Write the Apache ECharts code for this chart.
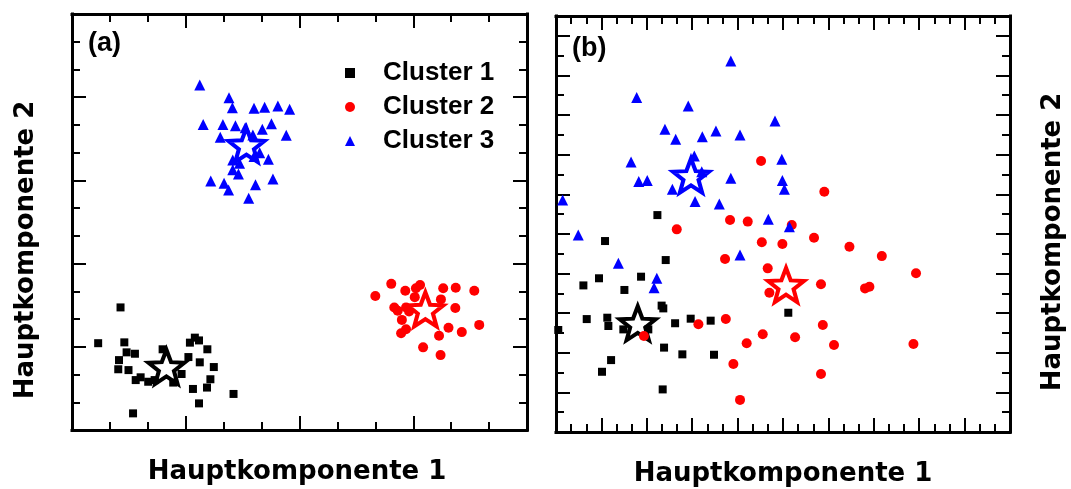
<!DOCTYPE html>
<html>
<head>
<meta charset="utf-8">
<script src="https://cdn.jsdelivr.net/npm/echarts@6/dist/echarts.min.js"></script>
<style>
html,body{margin:0;padding:0;background:#fff;}
#chart{width:1071px;height:489px;}
</style>
</head>
<body>
<div id="chart"></div>
<script>
// ---------- data ----------
const seriesNames = ['Cluster 1', 'Cluster 2', 'Cluster 3'];
const centerNames = ['Zentrum 1', 'Zentrum 2', 'Zentrum 3'];
const axisTitleX = 'Hauptkomponente 1';
const axisTitleY = 'Hauptkomponente 2';
const panelLabels = ['(a)', '(b)'];

// Panel (a)
const a_cluster1 = [[1.28,4.42],[0.69,3.13],[1.38,3.16],[1.44,2.80],[1.66,2.75],[1.24,2.52],[1.22,2.19],[1.49,2.16],[1.68,1.80],[1.81,1.90],[2.01,1.74],[2.18,1.80],[2.39,2.91],[2.67,1.71],[2.89,2.02],[3.07,2.63],[3.11,3.15],[3.24,3.33],[3.35,3.23],[3.57,2.91],[3.37,2.44],[3.74,2.27],[3.65,1.83],[3.56,1.53],[3.19,1.48],[3.35,0.96],[4.26,1.30],[1.61,0.60]];
const a_cluster2 = [[8.00,4.83],[8.42,5.27],[8.79,5.02],[9.07,5.11],[9.18,5.23],[9.79,5.11],[10.12,5.13],[10.61,5.02],[9.04,4.79],[9.73,4.71],[8.50,4.42],[8.59,4.30],[8.81,4.42],[8.89,4.27],[10.11,4.40],[8.70,3.97],[8.81,3.63],[8.68,3.49],[9.93,3.69],[10.28,3.53],[10.74,3.79],[9.68,3.40],[9.26,2.98],[9.72,2.70]];
const a_cluster3 = [[3.37,12.44],[4.14,11.98],[4.23,11.62],[4.80,11.60],[5.08,11.64],[5.43,11.68],[5.74,11.57],[3.46,11.02],[3.98,11.02],[4.31,10.97],[4.57,10.90],[5.02,10.84],[5.26,11.04],[5.65,10.63],[3.91,10.56],[4.77,10.64],[4.95,10.00],[5.18,9.76],[4.80,9.86],[4.24,9.74],[4.42,9.62],[4.24,9.38],[4.39,9.23],[3.66,8.98],[4.01,8.90],[4.13,8.65],[4.84,8.84],[5.30,9.05],[4.66,8.36]];
const a_centers = [[2.49,2.28],[9.32,4.35],[4.60,10.28]];

// Panel (b)
const b_cluster1 = [[6.70,10.95],[3.24,9.64],[7.25,8.68],[1.81,7.40],[2.84,7.76],[4.52,7.17],[5.62,7.84],[6.98,6.38],[7.09,6.24],[2.03,5.70],[3.39,5.77],[3.46,5.35],[4.45,5.18],[6.10,5.18],[7.87,5.49],[8.90,5.72],[10.22,5.62],[0.15,5.15],[7.14,4.26],[8.35,3.92],[10.44,3.90],[3.64,3.63],[3.04,3.04],[7.05,2.15],[15.35,6.02]];
const b_cluster2 = [[13.55,13.68],[11.50,10.70],[12.67,10.62],[15.58,10.45],[7.98,10.23],[13.60,9.58],[14.96,9.49],[11.17,8.73],[13.99,8.26],[14.10,7.03],[11.22,5.70],[9.41,5.44],[13.66,4.93],[15.80,4.78],[12.60,4.48],[11.72,3.43],[12.16,1.62],[5.81,4.85],[17.73,12.13],[17.05,9.81],[19.39,9.35],[21.53,8.88],[23.79,8.01],[17.51,7.46],[20.42,7.25],[20.71,7.33],[17.63,5.40],[18.37,4.39],[23.62,4.44],[17.51,2.93]];
const b_cluster3 = [[11.55,18.73],[5.33,16.88],[8.74,16.46],[14.47,15.70],[7.20,15.28],[7.91,14.78],[9.67,14.91],[10.57,15.19],[12.16,14.99],[4.96,13.63],[9.14,13.93],[14.92,13.77],[5.47,12.64],[6.03,12.69],[11.55,12.81],[14.96,12.69],[15.09,12.25],[7.69,12.25],[9.63,13.14],[9.19,11.63],[10.79,11.51],[0.44,11.71],[14.03,10.74],[15.42,10.36],[1.47,9.94],[4.12,8.52],[12.16,8.93],[6.66,7.76],[6.48,7.28]];
const b_centers = [[5.40,5.49],[15.20,7.42],[8.92,12.94]];

// axis ranges
const aX = {min: 0, max: 12, interval: 3, minor: 3};
const aY = {min: 0, max: 15, interval: 3, minor: 3};
const bX = {min: 0, max: 30, interval: 3, minor: 3};
const bY = {min: 0, max: 21, interval: 2, minorInterval: 1};

// ---------- styling ----------
const colors = ['#000000', '#ff0000', '#0000ff'];
const symbols = ['rect', 'circle', 'triangle'];
const FONT_T = '"DejaVu Sans", "Liberation Sans", Arial, sans-serif';
const FONT_L = '"Liberation Sans", Arial, Helvetica, sans-serif';
const STAR = 'path://M50 0 L62.34 33.01 L97.55 34.55 L69.97 56.49 L79.39 90.45 L50 71 L20.61 90.45 L30.03 56.49 L2.45 34.55 L37.66 33.01 Z';

function mkAxis(gridIndex, position, r, interval, minorSplit, majorLen, minorLen, showLine) {
  return {
    type: 'value', gridIndex: gridIndex, position: position,
    min: r.min, max: r.max, interval: interval,
    axisLine: {show: showLine, onZero: false, lineStyle: {color: '#000', width: 3, cap: 'square'}},
    axisTick: {show: true, inside: true, length: majorLen, lineStyle: {color: '#000', width: 2}},
    minorTick: {show: minorSplit > 1, splitNumber: minorSplit || 1, length: minorLen, lineStyle: {color: '#000', width: 2}},
    axisLabel: {show: false},
    splitLine: {show: false},
    minorSplitLine: {show: false}
  };
}

const xAxes = [
  mkAxis(0, 'bottom', aX, aX.interval, aX.minor, 14, 8, true),
  mkAxis(0, 'top', aX, aX.interval, aX.minor, 14, 8, true),
  mkAxis(1, 'bottom', bX, bX.interval, bX.minor, 14, 8, true),
  mkAxis(1, 'top', bX, bX.interval, bX.minor, 14, 8, true)
];
const yAxes = [
  mkAxis(0, 'left', aY, aY.interval, aY.minor, 14, 8, true),
  mkAxis(0, 'right', aY, aY.interval, aY.minor, 14, 8, true),
  mkAxis(1, 'left', bY, bY.interval, 0, 14, 8, true),
  mkAxis(1, 'right', bY, bY.interval, 0, 14, 8, true),
  mkAxis(1, 'left', bY, bY.minorInterval, 0, 8, 8, false),
  mkAxis(1, 'right', bY, bY.minorInterval, 0, 8, 8, false)
];

const pointSizes = [[8, 10, 11], [8, 10, 11]];
const series = [];
function addPanel(clusters, centers, xi, yi, sizes) {
  centers.forEach(function (c, i) {
    series.push({
      name: centerNames[i], type: 'scatter', xAxisIndex: xi, yAxisIndex: yi,
      data: [c], symbol: STAR, symbolSize: [36, 34], z: 2,
      itemStyle: {color: '#ffffff', borderColor: colors[i], borderWidth: 4, opacity: 1},
      emphasis: {disabled: true}
    });
  });
  clusters.forEach(function (d, i) {
    series.push({
      name: seriesNames[i], type: 'scatter', xAxisIndex: xi, yAxisIndex: yi,
      data: d, symbol: symbols[i], symbolSize: sizes[i], z: 3,
      itemStyle: {color: colors[i], opacity: 1},
      emphasis: {disabled: true}
    });
  });
}
addPanel([a_cluster1, a_cluster2, a_cluster3], a_centers, 0, 0, pointSizes[0]);
addPanel([b_cluster1, b_cluster2, b_cluster3], b_centers, 2, 2, pointSizes[1]);

function txt(text, x, y, size, rot, align, family) {
  return {
    type: 'text', x: x, y: y, rotation: rot || 0, silent: true,
    style: {
      text: text, fill: '#000',
      font: 'bold ' + size + 'px ' + family,
      textAlign: align || 'center', textVerticalAlign: 'middle',
      align: align || 'center', verticalAlign: 'middle'
    }
  };
}

const option = {
  animation: false,
  backgroundColor: '#ffffff',
  grid: [
    {left: 72, top: 14, width: 455, height: 416},
    {left: 556, top: 16, width: 454, height: 416}
  ],
  xAxis: xAxes,
  yAxis: yAxes,
  legend: {
    data: [
      {name: seriesNames[0], icon: 'rect', itemStyle: {color: colors[0]}},
      {name: seriesNames[1], icon: 'circle', itemStyle: {color: colors[1]}},
      {name: seriesNames[2], icon: 'triangle', itemStyle: {color: colors[2]}}
    ],
    orient: 'vertical',
    left: 340, top: 55,
    itemWidth: 10, itemHeight: 10, itemGap: 8,
    selectedMode: false,
    textStyle: {fontSize: 26, fontWeight: 'bold', fontFamily: FONT_L, color: '#000', padding: [0, 0, 0, 23]}
  },
  graphic: [
    txt(panelLabels[0], 88, 44, 27, 0, 'left', FONT_L),
    txt(panelLabels[1], 572, 49, 27, 0, 'left', FONT_L),
    txt(axisTitleX, 297, 472, 26, 0, 'center', FONT_T),
    txt(axisTitleX, 783, 474, 26, 0, 'center', FONT_T),
    txt(axisTitleY, 26, 250, 26, Math.PI / 2, 'center', FONT_T),
    txt(axisTitleY, 1053, 242, 26, Math.PI / 2, 'center', FONT_T)
  ],
  series: series
};

const chart = echarts.init(document.getElementById('chart'), null, {renderer: 'canvas'});
chart.setOption(option);
</script>
</body>
</html>
